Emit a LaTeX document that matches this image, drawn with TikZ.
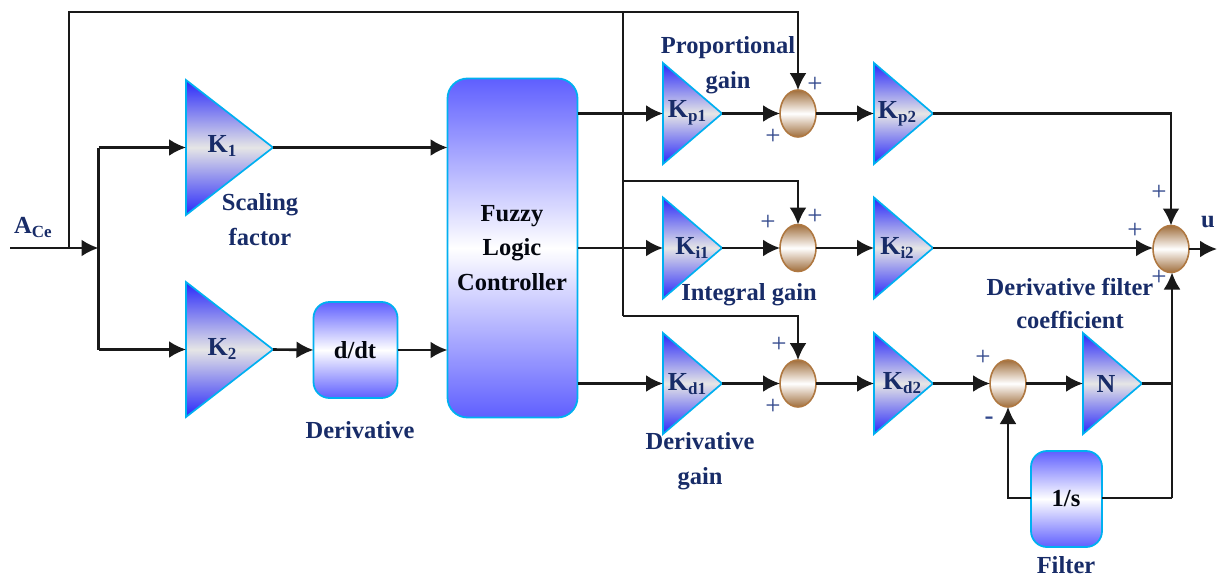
\documentclass[tikz,border=0pt]{standalone}
\usepackage{fontspec}
\setmainfont{Liberation Serif}
\usetikzlibrary{shapes.geometric,arrows.meta,calc}
\definecolor{navy}{RGB}{24,44,104}
\definecolor{pluscol}{RGB}{50,72,140}
\definecolor{edgecy}{RGB}{0,176,240}
\definecolor{blueend}{RGB}{40,40,250}
\definecolor{bluebox}{RGB}{95,95,255}
\definecolor{brownend}{RGB}{160,110,60}
\definecolor{brownedge}{RGB}{175,120,65}
\tikzset{
  x=1pt,y=-1pt,
  tri/.style={shape=isosceles triangle,isosceles triangle stretches,anchor=lower side,inner sep=0pt,outer sep=0pt,
    draw=edgecy,line width=1.7pt,top color=blueend,bottom color=blueend,middle color=black!10},
  bigtri/.style={tri,minimum height=87pt,minimum width=135pt},
  smalltri/.style={tri,minimum height=59pt,minimum width=101pt},
  sumj/.style={shape=ellipse,minimum width=36pt,minimum height=47pt,inner sep=0pt,outer sep=0pt,
    draw=brownedge,line width=1.6pt,top color=brownend,bottom color=brownend,middle color=white},
  blockb/.style={shape=rectangle,rounded corners=16pt,inner sep=0pt,outer sep=0pt,draw=edgecy,line width=1.8pt,
    top color=bluebox,bottom color=bluebox,middle color=white},
  lab/.style={text=navy,font=\fontsize{24.5}{24.5}\selectfont\bfseries,inner sep=0pt,align=center},
  klab/.style={text=navy,font=\fontsize{26}{26}\selectfont\bfseries,inner sep=0pt},
  blk/.style={text=black!85!navy,font=\fontsize{24.5}{24.5}\selectfont\bfseries,inner sep=0pt,align=center},
  plus/.style={text=pluscol,font=\fontsize{27}{27}\selectfont,inner sep=0pt},
  wire/.style={line width=2.6pt,line join=miter,black!90},
  thinw/.style={line width=2.2pt,line join=miter,black!90},
  arr/.style={wire,-{Latex[length=17pt,width=17pt]}},
  tarr/.style={thinw,-{Latex[length=17pt,width=17pt]}},
}
\newcommand{\ksub}[2]{#1\raisebox{-4pt}{\fontsize{17}{17}\selectfont #2}}
\begin{document}
\begin{tikzpicture}
\useasboundingbox (0,0) rectangle (1217,578);
% gains
\node[bigtri] (k1) at (186,147.5) {};
\node[bigtri] (k2) at (186,349.5) {};
\node[smalltri] (kp1) at (663,113.5) {};
\node[smalltri] (kp2) at (874,113.5) {};
\node[smalltri] (ki1) at (663,248) {};
\node[smalltri] (ki2) at (874,248) {};
\node[smalltri] (kd1) at (663,383.5) {};
\node[smalltri] (kd2) at (874,383.5) {};
\node[smalltri] (nn) at (1083,383.5) {};
% blocks
\node[blockb,minimum width=84pt,minimum height=96pt] (ddt) at (355.5,350) {};
\node[blockb,minimum width=130pt,minimum height=339pt,rounded corners=20pt] (flc) at (512.5,248) {};
\node[blockb,minimum width=71pt,minimum height=96pt] (int) at (1066.5,499) {};
% summers
\node[sumj] (s1) at (798,113.5) {};
\node[sumj] (s2) at (798,248) {};
\node[sumj] (s3) at (798,383.5) {};
\node[sumj] (s4) at (1008,383.5) {};
\node[sumj] (s5) at (1171,249) {};
% coordinates
\coordinate (in) at (10,248);
\coordinate (jin) at (69,248);
\coordinate (jsp) at (98.5,248);
\coordinate (top) at (69,12);
\coordinate (tap) at (623,12);
\coordinate (tapi) at (623,181);
\coordinate (tapd) at (623,316);
\coordinate (uout) at (1217,249);
\coordinate (jn) at (1172,383.5);
\coordinate (jf) at (1172,498);
% connectors
\draw[arr] (in) -- (jsp);
\draw[wire] (jin) -- (top) -- (tap);
\draw[wire] (jsp |- k1.lower side) -- (jsp |- k2.lower side);
\draw[arr] (jsp |- k1.lower side) -- (k1.lower side);
\draw[arr] (jsp |- k2.lower side) -- (k2.lower side);
\draw[arr] (k1.apex) -- (flc.west |- k1.apex);
\draw[arr] (k2.apex) -- (ddt.west);
\draw[arr] (ddt.east) -- (flc.west |- ddt.east);
\draw[thinw] (tap) -- (tapd);
\draw[tarr] (tap) -- (tap -| s1.north) -- (s1.north);
\draw[tarr] (tapi) -- (tapi -| s2.north) -- (s2.north);
\draw[tarr] (tapd) -- (tapd -| s3.north) -- (s3.north);
\draw[arr] (flc.east |- kp1.lower side) -- (kp1.lower side);
\draw[arr] (flc.east |- ki1.lower side) -- (ki1.lower side);
\draw[arr] (flc.east |- kd1.lower side) -- (kd1.lower side);
\draw[arr] (kp1.apex) -- (s1.west);
\draw[arr] (ki1.apex) -- (s2.west);
\draw[arr] (kd1.apex) -- (s3.west);
\draw[arr] (s1.east) -- (kp2.lower side);
\draw[arr] (s2.east) -- (ki2.lower side);
\draw[arr] (s3.east) -- (kd2.lower side);
\draw[arr] (kd2.apex) -- (s4.west);
\draw[arr] (s4.east) -- (nn.lower side);
\draw[arr] (kp2.apex) -- (kp2.apex -| s5.north) -- (s5.north);
\draw[arr] (ki2.apex) -- (ki2.apex -| s5.west);
\draw[arr] (s5.east) -- (uout);
\draw[wire] (nn.apex) -- (jn);
\draw[tarr] (jf) -- (jn) -- (jn |- s5.south);
\draw[thinw] (jf) -- (int.east |- jf);
\draw[tarr] (int.west |- jf) -- (s4.south |- jf) -- (s4.south);
% labels
\node[klab] (t1) at (222,146) {\ksub{K}{1}};
\node[klab] (t2) at (222,349) {\ksub{K}{2}};
\node[klab] (tp1) at (687,113) {\ksub{K}{p1}};
\node[klab] (tp2) at (897,114) {\ksub{K}{p2}};
\node[klab] (ti1) at (692,248) {\ksub{K}{i1}};
\node[klab] (ti2) at (897,248) {\ksub{K}{i2}};
\node[klab] (td1) at (687,384) {\ksub{K}{d1}};
\node[klab] (td2) at (902,383) {\ksub{K}{d2}};
\node[klab] (tn) at (1106,384) {N};
\node[blk] (tddt) at (355,350) {d/dt};
\node[blk] (tint) at (1066,499) {1/s};
\node[blk] (tflc) at (512,248) {Fuzzy\\[10pt]Logic\\[10pt]Controller};
\node[lab] (ace) at (33,227) {\ksub{A}{Ce}};
\node[lab] (scale) at (260,219.5) {Scaling\\[10pt]factor};
\node[lab] (deriv) at (360,430) {Derivative};
\node[lab] (prop) at (728,65) {Proportional\\[10pt]gain};
\node[lab] (intg) at (749,295) {Integral gain};
\node[lab] (dgain) at (700,461) {Derivative\\[10pt]gain};
\node[lab] (dfilt) at (1070,303.5) {Derivative filter\\[9pt]coefficient};
\node[lab] (filt) at (1066,565) {Filter};
\node[lab] (uu) at (1208,222) {u};
\node[plus] (p1) at (815,85) {+};
\node[plus] (p2) at (773,137) {+};
\node[plus] (p3) at (768,223) {+};
\node[plus] (p4) at (815,217) {+};
\node[plus] (p5) at (779,345) {+};
\node[plus] (p6) at (773,407) {+};
\node[plus] (p7) at (983,358) {+};
\node[plus] (p8) at (989,421) {\bfseries -};
\node[plus] (p9) at (1159,193) {+};
\node[plus] (p10) at (1135,231) {+};
\node[plus] (p11) at (1159,278) {+};
\end{tikzpicture}
\end{document}
